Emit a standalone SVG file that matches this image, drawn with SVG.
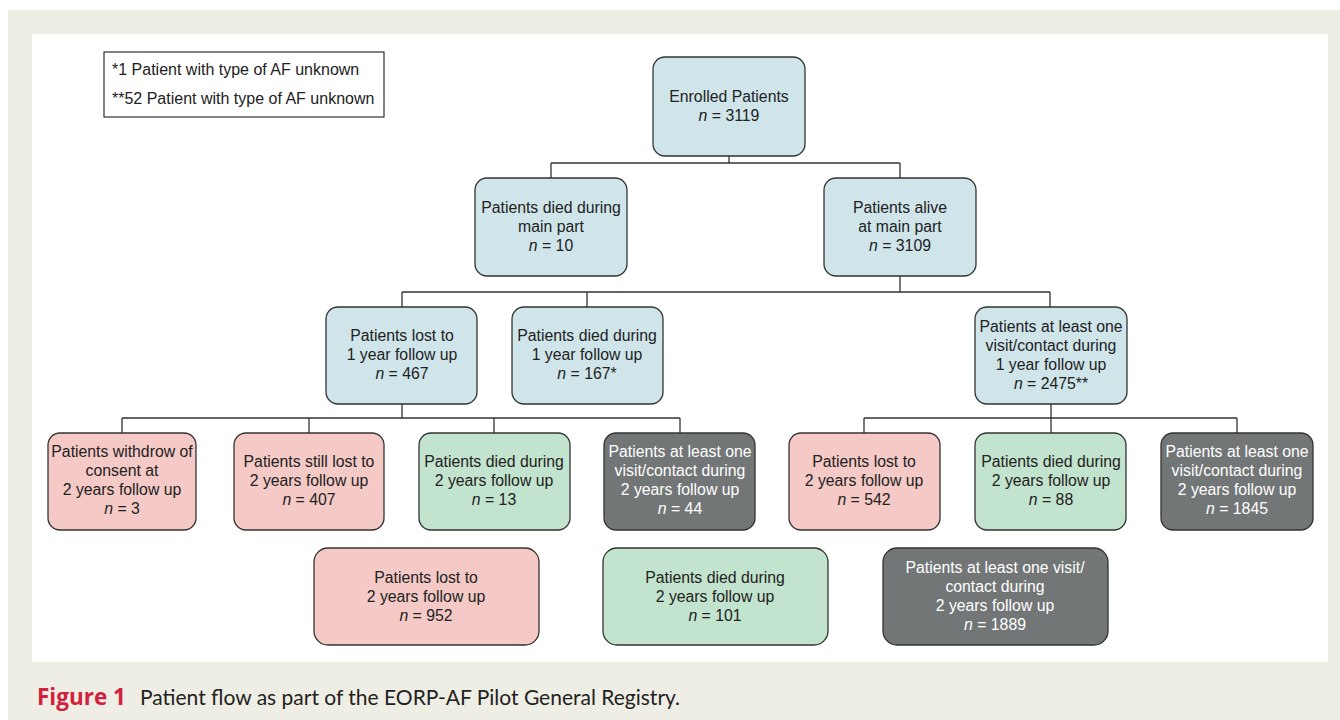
<svg xmlns="http://www.w3.org/2000/svg" width="1340" height="720" viewBox="0 0 1340 720">
<style>
.t{font-family:"Liberation Sans",Arial,sans-serif;font-size:15.8px;fill:#222;text-anchor:middle}
.w{fill:#fff}
.i{font-style:italic}
.box{stroke:#333;stroke-width:1.3}
.blue{fill:#cfe5ea}
.pink{fill:#f5c9c6}
.green{fill:#c2e3cd}
.dark{fill:#737677}
.c{fill:none;stroke:#333;stroke-width:1.3}
</style>
<rect x="0" y="0" width="1340" height="720" fill="#fff"/>
<rect x="8" y="10" width="1332" height="710" fill="#efeee4"/>
<rect x="32" y="34" width="1296" height="628" fill="#fff"/>

<g id="legend">
<rect x="104" y="52" width="280" height="65" fill="#fff" stroke="#333" stroke-width="1.2"/>
<text x="112" y="75" class="t" style="text-anchor:start;font-size:16px">*1 Patient with type of AF unknown</text>
<text x="112" y="104" class="t" style="text-anchor:start;font-size:16px">**52 Patient with type of AF unknown</text>
</g>

<g id="connectors">
<path class="c" d="M729 156V163M551 163H900M551 163V178M900 163V178"/>
<path class="c" d="M900 276V292M402 292H1050M402 292V307M587 292V307M1050 292V307"/>
<path class="c" d="M402 404V418M122 418H680M122 418V433M309 418V433M494 418V433M680 418V433"/>
<path class="c" d="M1051 404V418M864 418H1237M864 418V433M1051 418V433M1237 418V433"/>
</g>

<g id="enrolled">
<rect class="box blue" x="653" y="57" width="152" height="99" rx="12"/>
<text class="t" x="729" y="102">Enrolled Patients</text>
<text class="t" x="729" y="121"><tspan class="i">n</tspan> = 3119</text>
</g>

<g id="died-main">
<rect class="box blue" x="475" y="178" width="152" height="98" rx="12"/>
<text class="t" x="551" y="213">Patients died during</text>
<text class="t" x="551" y="232">main part</text>
<text class="t" x="551" y="251"><tspan class="i">n</tspan> = 10</text>
</g>

<g id="alive-main">
<rect class="box blue" x="824" y="178" width="152" height="98" rx="12"/>
<text class="t" x="900" y="213">Patients alive</text>
<text class="t" x="900" y="232">at main part</text>
<text class="t" x="900" y="251"><tspan class="i">n</tspan> = 3109</text>
</g>

<g id="lost-1y">
<rect class="box blue" x="326" y="307" width="151" height="97" rx="12"/>
<text class="t" x="402" y="341">Patients lost to</text>
<text class="t" x="402" y="360">1 year follow up</text>
<text class="t" x="402" y="379"><tspan class="i">n</tspan> = 467</text>
</g>

<g id="died-1y">
<rect class="box blue" x="512" y="307" width="151" height="97" rx="12"/>
<text class="t" x="587" y="341">Patients died during</text>
<text class="t" x="587" y="360">1 year follow up</text>
<text class="t" x="587" y="379"><tspan class="i">n</tspan> = 167*</text>
</g>

<g id="visit-1y">
<rect class="box blue" x="975" y="307" width="152" height="97" rx="12"/>
<text class="t" x="1051" y="332">Patients at least one</text>
<text class="t" x="1051" y="351">visit/contact during</text>
<text class="t" x="1051" y="370">1 year follow up</text>
<text class="t" x="1051" y="389"><tspan class="i">n</tspan> = 2475**</text>
</g>

<g id="withdrew-2y">
<rect class="box pink" x="48" y="433" width="148" height="97" rx="12"/>
<text class="t" x="122" y="457">Patients withdrow of</text>
<text class="t" x="122" y="476">consent at</text>
<text class="t" x="122" y="495">2 years follow up</text>
<text class="t" x="122" y="514"><tspan class="i">n</tspan> = 3</text>
</g>

<g id="still-lost-2y">
<rect class="box pink" x="234" y="433" width="150" height="97" rx="12"/>
<text class="t" x="309" y="467">Patients still lost to</text>
<text class="t" x="309" y="486">2 years follow up</text>
<text class="t" x="309" y="505"><tspan class="i">n</tspan> = 407</text>
</g>

<g id="died-2y-a">
<rect class="box green" x="419" y="433" width="151" height="97" rx="12"/>
<text class="t" x="494" y="467">Patients died during</text>
<text class="t" x="494" y="486">2 years follow up</text>
<text class="t" x="494" y="505"><tspan class="i">n</tspan> = 13</text>
</g>

<g id="visit-2y-a">
<rect class="box dark" x="604" y="433" width="151" height="97" rx="12"/>
<text class="t w" x="680" y="457">Patients at least one</text>
<text class="t w" x="680" y="476">visit/contact during</text>
<text class="t w" x="680" y="495">2 years follow up</text>
<text class="t w" x="680" y="514"><tspan class="i">n</tspan> = 44</text>
</g>

<g id="lost-2y-b">
<rect class="box pink" x="789" y="433" width="151" height="97" rx="12"/>
<text class="t" x="864" y="467">Patients lost to</text>
<text class="t" x="864" y="486">2 years follow up</text>
<text class="t" x="864" y="505"><tspan class="i">n</tspan> = 542</text>
</g>

<g id="died-2y-b">
<rect class="box green" x="975" y="433" width="151" height="97" rx="12"/>
<text class="t" x="1051" y="467">Patients died during</text>
<text class="t" x="1051" y="486">2 years follow up</text>
<text class="t" x="1051" y="505"><tspan class="i">n</tspan> = 88</text>
</g>

<g id="visit-2y-b">
<rect class="box dark" x="1161" y="433" width="152" height="97" rx="12"/>
<text class="t w" x="1237" y="457">Patients at least one</text>
<text class="t w" x="1237" y="476">visit/contact during</text>
<text class="t w" x="1237" y="495">2 years follow up</text>
<text class="t w" x="1237" y="514"><tspan class="i">n</tspan> = 1845</text>
</g>

<g id="total-lost-2y">
<rect class="box pink" x="314" y="548" width="225" height="97" rx="14"/>
<text class="t" x="426" y="583">Patients lost to</text>
<text class="t" x="426" y="602">2 years follow up</text>
<text class="t" x="426" y="621"><tspan class="i">n</tspan> = 952</text>
</g>

<g id="total-died-2y">
<rect class="box green" x="603" y="548" width="225" height="97" rx="14"/>
<text class="t" x="715" y="583">Patients died during</text>
<text class="t" x="715" y="602">2 years follow up</text>
<text class="t" x="715" y="621"><tspan class="i">n</tspan> = 101</text>
</g>

<g id="total-visit-2y">
<rect class="box dark" x="883" y="548" width="225" height="97" rx="14"/>
<text class="t w" x="995" y="573">Patients at least one visit/</text>
<text class="t w" x="995" y="592">contact during</text>
<text class="t w" x="995" y="611">2 years follow up</text>
<text class="t w" x="995" y="630"><tspan class="i">n</tspan> = 1889</text>
</g>

<g id="caption">
<text x="37" y="705" style="font-family:'Open Sans',sans-serif;font-size:22.5px;font-weight:bold;fill:#d2203f">Figure 1</text>
<text x="140" y="705" style="font-family:Lato,'Open Sans',sans-serif;font-size:21px;fill:#222">Patient flow as part of the EORP-AF Pilot General Registry.</text>
</g>
</svg>
